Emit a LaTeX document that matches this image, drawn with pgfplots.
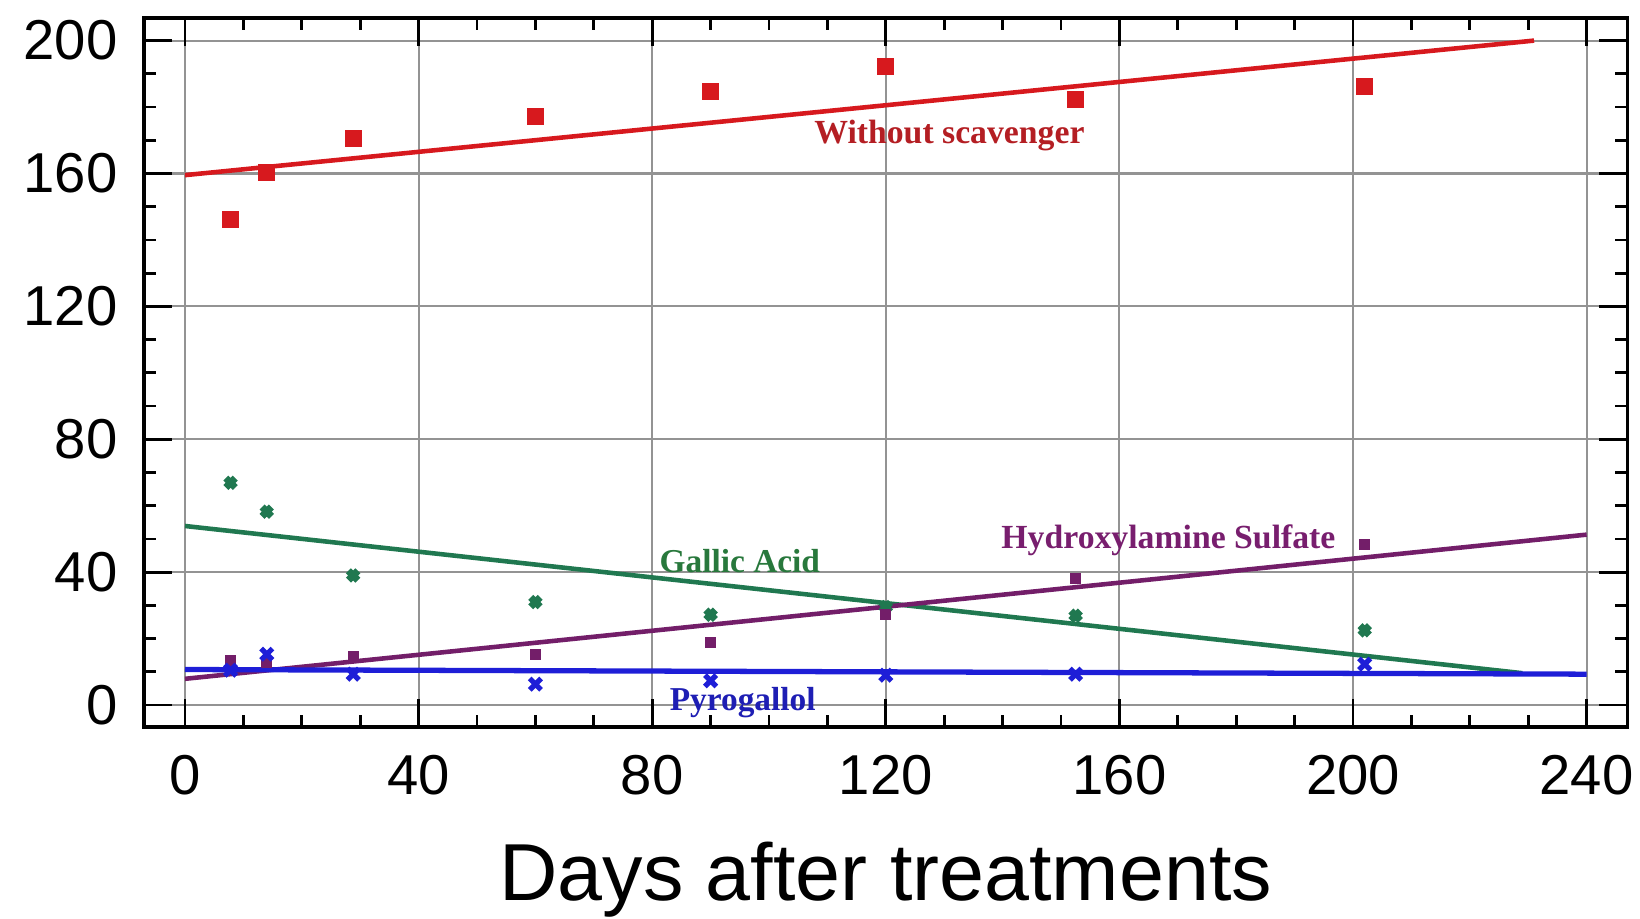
\documentclass[border=0pt]{standalone}
\usepackage{pgfplots}
\pgfplotsset{compat=1.18}
\usepackage{fontspec}
\setmainfont{Liberation Sans}
\newfontfamily\lblfont{Liberation Serif}

\definecolor{cred}{RGB}{215,25,30}
\definecolor{cgreen}{RGB}{32,120,80}
\definecolor{cpurple}{RGB}{115,30,105}
\definecolor{cblue}{RGB}{30,30,215}
\definecolor{tred}{RGB}{180,30,35}
\definecolor{tgreen}{RGB}{40,120,60}
\definecolor{tpurple}{RGB}{120,30,110}
\definecolor{tblue}{RGB}{30,30,180}

\begin{document}
\begin{tikzpicture}
\begin{axis}[
  scale only axis, width=14.835cm, height=7.09cm,
  xmin=-7.02, xmax=247, ymin=-6.6, ymax=206.8,
  xtick={0,40,...,240}, ytick={0,40,...,200},
  minor x tick num=3, minor y tick num=3,
  tick align=inside,
  major tick length=8pt, minor tick length=3.5pt,
  grid=major, major grid style={gray!85, line width=0.6pt},
  axis line style={line width=1pt, black},
  tick style={black, line width=0.8pt},
  ticklabel style={font=\fontsize{16}{16}\selectfont},
  /pgf/number format/assume math mode=true,
  yticklabel style={xshift=-4pt},
  xticklabel style={yshift=-4.5pt},
  xlabel={Days after treatments},
  xlabel style={font=\fontsize{23}{23}\selectfont, anchor=base, at={(axis description cs:0.5,0)}, yshift=-49.5pt},
]
% fitted lines
\addplot[cred, line width=1.3pt] coordinates {(0,159.5) (231,200)};
\addplot[cgreen, line width=1.3pt] coordinates {(0,53.9) (229,9.6)};
\addplot[cpurple, line width=1.3pt] coordinates {(0,7.9) (240,51.3)};
\addplot[cblue, line width=1.5pt] coordinates {(0,10.7) (240,9.3)};
% data points
\addplot[only marks, mark=square*, mark size=2.2pt, color=cred] coordinates {
(7.8,146.2) (14,160.4) (28.8,170.5) (60,177.2) (90,184.6) (120,192.3) (152.5,182.2) (202,186.1)};
\addplot[only marks, mark=x, mark size=1.9pt, color=cgreen, mark options={line width=2pt}] coordinates {
(7.8,66.9) (14,58.2) (28.8,39) (60,31) (90,27.2) (120,29.5) (152.5,26.9) (202,22.5)};
\addplot[only marks, mark=square*, mark size=1.4pt, color=cpurple] coordinates {
(7.8,13.3) (14,13) (28.8,14.5) (60,15.3) (90,18.8) (120,27.2) (152.5,38) (202,48.3)};
\addplot[only marks, mark=x, mark size=2.3pt, color=cblue, mark options={line width=1.5pt}] coordinates {
(7.8,10.5) (14,15.3) (28.8,9.3) (60,6.3) (90,7.3) (120,9) (152.5,9.3) (202,12.3)};
% labels
\node[font=\lblfont\bfseries\fontsize{9.6}{9.6}\selectfont, text=tred] at (axis cs:130.9,171.3) {Without scavenger};
\node[font=\lblfont\bfseries\fontsize{9.5}{9.5}\selectfont, text=tgreen] at (axis cs:95.0,43.2) {Gallic Acid};
\node[font=\lblfont\bfseries\fontsize{9.6}{9.6}\selectfont, text=tpurple] at (axis cs:168.4,49.5) {Hydroxylamine Sulfate};
\node[font=\lblfont\bfseries\fontsize{9.5}{9.5}\selectfont, text=tblue] at (axis cs:95.5,0.6) {Pyrogallol};
\end{axis}
\pgfresetboundingbox
\useasboundingbox ([shift={(-1.44cm,-1.91cm)}]current axis.south west) rectangle ([shift={(0.125cm,0.18cm)}]current axis.north east);
\end{tikzpicture}
\end{document}
